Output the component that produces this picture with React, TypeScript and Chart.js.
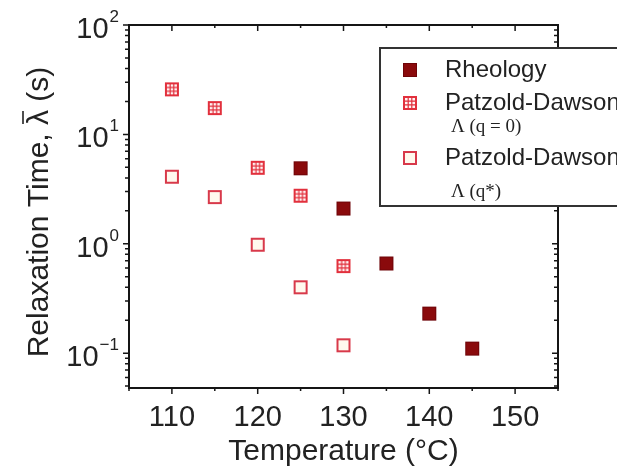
import React, { useEffect, useRef } from "react";
import { Chart, registerables } from "chart.js";

Chart.register(...registerables);

// ---- data ----
const rheologyTemp = [125, 130, 135, 140, 145];
const rheologyTau = [4.9, 2.1, 0.66, 0.23, 0.11];
const pdZeroTemp = [110, 115, 120, 125, 130];
const pdZeroTau = [25.8, 17.4, 4.95, 2.75, 0.625];
const pdStarTemp = [110, 115, 120, 125, 130];
const pdStarTau = [4.1, 2.67, 0.98, 0.4, 0.118];

const xTickValues = [110, 120, 130, 140, 150];
const xMinorValues = [105, 115, 125, 135, 145, 155];
const yDecades = [0.1, 1, 10, 100];
const yExponents = ["-1", "0", "1", "2"];

const seriesLabels = ["Rheology", "Patzold-Dawson", "Patzold-Dawson"];
const seriesSubLabels = ["", "\u039B (q = 0)", "\u039B (q*)"];
const yTitleParts = ["Relaxation Time, ", "\u03BB", " (s)"];

const SANS = "'Liberation Sans', Arial, sans-serif";
const SERIF = "'Liberation Serif', 'Times New Roman', serif";

function makeMarker(kind: string): HTMLCanvasElement {
  const c = document.createElement("canvas");
  c.width = 16;
  c.height = 16;
  const g = c.getContext("2d")!;
  if (kind === "filled") {
    g.fillStyle = "#8a0a0c";
    g.fillRect(1, 1, 14, 14);
    g.strokeStyle = "#6e0408";
    g.lineWidth = 1;
    g.strokeRect(1.5, 1.5, 13, 13);
  } else if (kind === "grid") {
    g.fillStyle = "#fff3f3";
    g.fillRect(2, 2, 12, 12);
    g.strokeStyle = "#e2303d";
    g.lineWidth = 2;
    g.strokeRect(2, 2, 12, 12);
    g.lineWidth = 1.2;
    g.beginPath();
    g.moveTo(6.2, 2);
    g.lineTo(6.2, 14);
    g.moveTo(9.8, 2);
    g.lineTo(9.8, 14);
    g.moveTo(2, 6.2);
    g.lineTo(14, 6.2);
    g.moveTo(2, 9.8);
    g.lineTo(14, 9.8);
    g.stroke();
  } else {
    g.fillStyle = "#fff9ee";
    g.fillRect(2, 2, 12, 12);
    g.strokeStyle = "#d8394a";
    g.lineWidth = 2;
    g.strokeRect(2, 2, 12, 12);
  }
  return c;
}

export default function App() {
  const ref = useRef<HTMLCanvasElement | null>(null);

  useEffect(() => {
    if (!ref.current) return;
    const markers = [makeMarker("filled"), makeMarker("grid"), makeMarker("hollow")];

    const framePlugin = {
      id: "frameTicks",
      afterDraw(chart: any) {
        const ctx = chart.ctx;
        const { left, right, top, bottom } = chart.chartArea;
        const xs = chart.scales.x;
        const ys = chart.scales.y;
        ctx.save();
        ctx.strokeStyle = "#151515";
        ctx.lineWidth = 2;
        ctx.strokeRect(left, top, right - left, bottom - top);
        ctx.lineWidth = 1.5;
        ctx.beginPath();
        for (const v of xTickValues) {
          const px = xs.getPixelForValue(v);
          ctx.moveTo(px, bottom);
          ctx.lineTo(px, bottom + 6);
          ctx.moveTo(px, top);
          ctx.lineTo(px, top + 6);
        }
        for (const v of xMinorValues) {
          const px = xs.getPixelForValue(v);
          ctx.moveTo(px, bottom);
          ctx.lineTo(px, bottom + 3);
          ctx.moveTo(px, top);
          ctx.lineTo(px, top + 3);
        }
        const yMin = ys.min;
        const yMax = ys.max;
        for (const d of [0.01, 0.1, 1, 10, 100]) {
          for (let k = 1; k <= 9; k++) {
            const v = d * k;
            if (v < yMin * 0.999 || v > yMax * 1.001) continue;
            const py = ys.getPixelForValue(v);
            const len = k === 1 ? 6 : 4;
            ctx.moveTo(left, py);
            ctx.lineTo(left - len, py);
            ctx.moveTo(right, py);
            ctx.lineTo(right - len, py);
          }
        }
        ctx.stroke();

        // y tick labels 10^n
        ctx.fillStyle = "#222";
        ctx.textBaseline = "alphabetic";
        ctx.textAlign = "left";
        yDecades.forEach((v, i) => {
          const py = ys.getPixelForValue(v);
          ctx.font = "29px " + SANS;
          const wBase = ctx.measureText("10").width;
          ctx.font = "17px " + SANS;
          const exp = yExponents[i].replace("-", "\u2212");
          const wExp = ctx.measureText(exp).width;
          const x0 = 119 - wBase - wExp - 1;
          ctx.font = "29px " + SANS;
          ctx.fillText("10", x0, py + 13);
          ctx.font = "17px " + SANS;
          ctx.fillText(exp, x0 + wBase + 1, py - 3);
        });

        // y title with overbar on lambda
        ctx.save();
        ctx.translate(38, 212);
        ctx.rotate(-Math.PI / 2);
        ctx.font = "30px " + SANS;
        const full = yTitleParts.join("");
        const wFull = ctx.measureText(full).width;
        const w0 = ctx.measureText(yTitleParts[0]).width;
        const w1 = ctx.measureText(yTitleParts[1]).width;
        const sx = -wFull / 2;
        ctx.fillStyle = "#222";
        ctx.fillText(full, sx, 10);
        ctx.strokeStyle = "#222";
        ctx.lineWidth = 1.6;
        ctx.beginPath();
        ctx.moveTo(sx + w0 + 1, -15);
        ctx.lineTo(sx + w0 + w1 - 1, -15);
        ctx.stroke();
        ctx.restore();

        // legend
        const lx = 380;
        const ly = 48;
        ctx.lineWidth = 2;
        ctx.strokeStyle = "#333";
        ctx.fillStyle = "#ffffff";
        ctx.fillRect(lx, ly, 240, 158);
        ctx.strokeRect(lx, ly, 240, 158);
        const rows = [70, 103, 158];
        const subRows = [0, 127, 192];
        rows.forEach((ry, i) => {
          const m = markers[i];
          ctx.drawImage(m, 410 - m.width / 2, ry - m.height / 2);
          ctx.fillStyle = "#222";
          ctx.font = "24px " + SANS;
          ctx.textBaseline = "middle";
          ctx.fillText(seriesLabels[i], 445, ry);
          if (seriesSubLabels[i]) {
            ctx.font = "19px " + SERIF;
            ctx.fillText(seriesSubLabels[i], 451, subRows[i]);
          }
        });
        ctx.restore();
      },
    };

    const chart = new Chart(ref.current, {
      type: "scatter",
      data: {
        datasets: [
          {
            label: seriesLabels[0],
            data: rheologyTemp.map((t, i) => ({ x: t, y: rheologyTau[i] })),
            pointStyle: markers[0],
          },
          {
            label: seriesLabels[1],
            data: pdZeroTemp.map((t, i) => ({ x: t, y: pdZeroTau[i] })),
            pointStyle: markers[1],
          },
          {
            label: seriesLabels[2],
            data: pdStarTemp.map((t, i) => ({ x: t, y: pdStarTau[i] })),
            pointStyle: markers[2],
          },
        ],
      },
      options: {
        animation: false,
        responsive: false,
        devicePixelRatio: 1,
        layout: { padding: { left: 0, top: 25, right: 59, bottom: 0 } },
        plugins: { legend: { display: false }, tooltip: { enabled: false } },
        scales: {
          x: {
            type: "linear",
            min: 105,
            max: 155,
            afterBuildTicks: (s: any) => {
              s.ticks = xTickValues.map((v) => ({ value: v }));
            },
            afterFit: (s: any) => {
              s.height = 86;
            },
            grid: { display: false, drawTicks: false },
            border: { display: false },
            ticks: {
              font: { size: 29, family: SANS },
              color: "#222",
              padding: 13,
              maxRotation: 0,
              autoSkip: false,
            },
            title: {
              display: true,
              text: "Temperature (\u00B0C)",
              font: { size: 30, family: SANS },
              color: "#222",
              padding: { top: 0, bottom: 4 },
            },
          },
          y: {
            type: "logarithmic",
            min: 0.048,
            max: 100,
            afterFit: (s: any) => {
              s.width = 129;
            },
            grid: { display: false, drawTicks: false },
            border: { display: false },
            ticks: { display: false },
            title: { display: false },
          },
        },
      },
      plugins: [framePlugin],
    } as any);
    return () => chart.destroy();
  }, []);

  return (
    <div style={{ position: "fixed", left: 0, top: 0, width: 617, height: 474, background: "#fff" }}>
      <canvas ref={ref} width={617} height={474} />
    </div>
  );
}
